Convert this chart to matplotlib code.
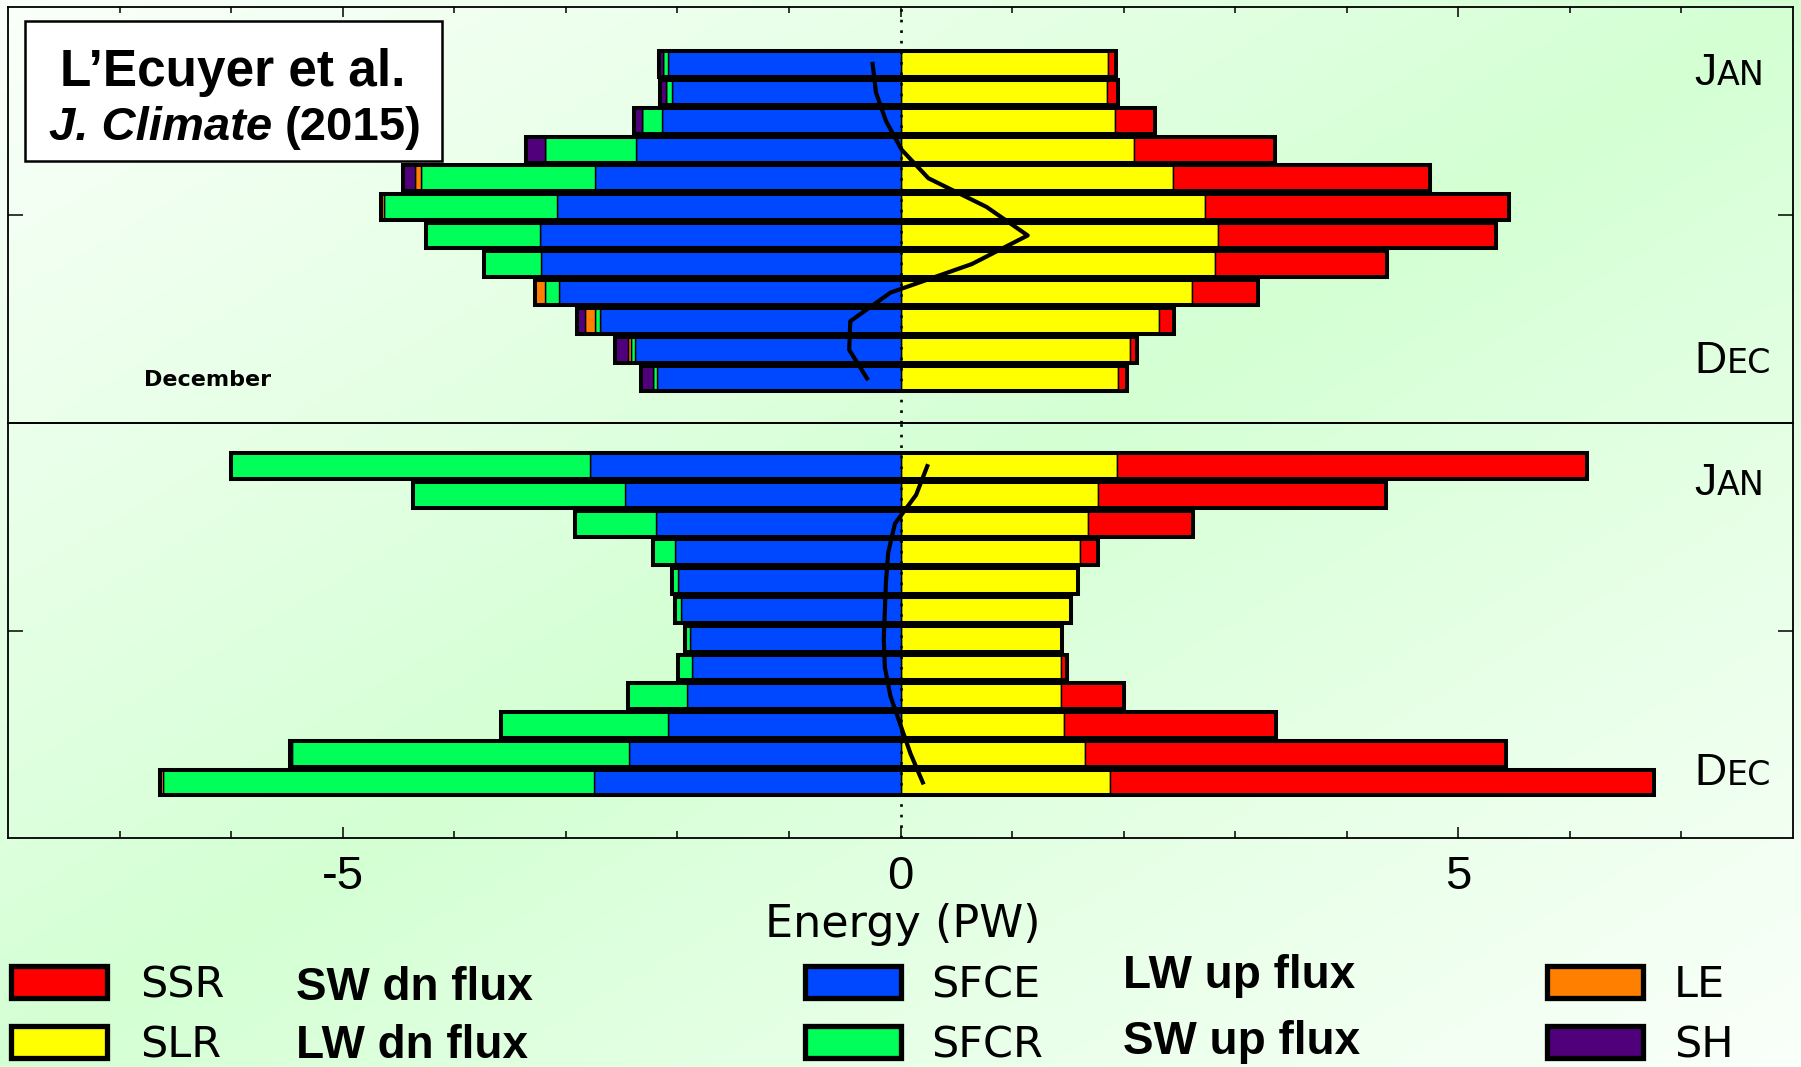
import numpy as np
import matplotlib
matplotlib.use("Agg")
import matplotlib.pyplot as plt
from matplotlib.patches import Rectangle

plt.rcParams['font.family'] = ['Liberation Sans', 'DejaVu Sans']

# Monthly surface energy terms (PW), January first
months = np.arange(1, 13)

upper_ssr = [0.07, 0.10, 0.36, 1.27, 2.31, 2.72, 2.49, 1.54, 0.59, 0.13, 0.06, 0.08]
upper_slr = [1.86, 1.85, 1.92, 2.09, 2.44, 2.73, 2.85, 2.82, 2.61, 2.32, 2.06, 1.95]
upper_sfce = [2.08, 2.05, 2.14, 2.37, 2.74, 3.08, 3.23, 3.22, 3.06, 2.69, 2.38, 2.18]
upper_sfcr = [0.045, 0.055, 0.18, 0.82, 1.56, 1.55, 1.02, 0.51, 0.13, 0.045, 0.035, 0.04]
upper_le = [0.0, 0.0, 0.0, 0.0, 0.05, 0.03, 0.0, 0.0, 0.09, 0.09, 0.025, 0.0]
upper_sh = [0.04, 0.05, 0.07, 0.17, 0.11, 0.0, 0.0, 0.0, 0.0, 0.075, 0.12, 0.105]
upper_curve = [-0.25, -0.22, -0.13, 0.01, 0.25, 0.77, 1.14, 0.64, -0.09, -0.45, -0.46, -0.30]

lower_ssr = [4.21, 2.58, 0.94, 0.16, 0.0, 0.0, 0.0, 0.05, 0.56, 1.90, 3.78, 4.87]
lower_slr = [1.94, 1.77, 1.68, 1.61, 1.59, 1.53, 1.45, 1.44, 1.44, 1.47, 1.65, 1.88]
lower_sfce = [2.78, 2.47, 2.19, 2.02, 1.99, 1.97, 1.89, 1.87, 1.91, 2.08, 2.43, 2.75]
lower_sfcr = [3.22, 1.90, 0.73, 0.20, 0.06, 0.05, 0.04, 0.12, 0.53, 1.50, 3.02, 3.86]
lower_le = [0.0, 0.0, 0.0, 0.0, 0.0, 0.0, 0.0, 0.0, 0.0, 0.0, 0.02, 0.03]
lower_sh = [0.0] * 12
lower_curve = [0.24, 0.14, -0.05, -0.11, -0.13, -0.14, -0.15, -0.14, -0.09, 0.00, 0.09, 0.20]

x_ticks = [-5, 0, 5]
x_ticklabels = ['-5', '0', '5']

c_ssr = '#ff0000'
c_slr = '#ffff00'
c_sfce = '#0048ff'
c_sfcr = '#00ff58'
c_le = '#ff7f00'
c_sh = '#50007a'

W, H = 1801, 1067


def fx(px):
    return px / W


def fy(py):
    return 1 - py / H


fig = plt.figure(figsize=(W / 100, H / 100), dpi=100)

# diagonal pale green wash behind everything
bg = fig.add_axes([0, 0, 1, 1], zorder=-10)
gx, gy = np.meshgrid(np.linspace(0, 1, 360), np.linspace(0, 1, 220))
d = np.abs(gx + gy - 1)
green = np.array([211, 255, 211]) / 255
white = np.array([250, 255, 250]) / 255
img = green[None, None, :] + (white - green)[None, None, :] * d[..., None] ** 0.9
bg.imshow(img, aspect='auto', extent=[0, 1, 0, 1], origin='upper')
bg.axis('off')


def draw_panel(ax, ssr, slr, sfce, sfcr, le, sh, curve, ylim):
    ssr, slr = np.array(ssr), np.array(slr)
    sfce, sfcr = np.array(sfce), np.array(sfcr)
    le, sh = np.array(le), np.array(sh)
    h = 0.9
    kw = dict(height=h, edgecolor='black', linewidth=1.0, zorder=2)
    ax.barh(months, slr, left=0, color=c_slr, **kw)
    ax.barh(months, ssr, left=slr, color=c_ssr, **kw)
    ax.barh(months, -sfce, left=0, color=c_sfce, **kw)
    ax.barh(months, -sfcr, left=-sfce, color=c_sfcr, **kw)
    ax.barh(months, -le, left=-(sfce + sfcr), color=c_le, **kw)
    ax.barh(months, -sh, left=-(sfce + sfcr + le), color=c_sh, **kw)
    left_tot = sfce + sfcr + le + sh
    right_tot = slr + ssr
    ax.barh(months, left_tot + right_tot, left=-left_tot, height=h,
            fill=False, edgecolor='black', linewidth=2.9, zorder=3)
    ax.plot(curve, months, color='black', linewidth=3.0, zorder=4)
    ax.axvline(0, color='black', linestyle=(0, (1, 3)), linewidth=1.9, zorder=5)

    ax.set_xlim(-8, 8)
    ax.set_ylim(*ylim)
    ax.set_yticks([(ylim[0] + ylim[1]) / 2])
    ax.tick_params(axis='y', direction='in', length=11, width=1.1,
                   left=True, right=True, labelleft=False)
    ax.set_xticks(x_ticks)
    ax.set_xticks(np.arange(-7, 8), minor=True)
    ax.set_facecolor('none')
    for s in ax.spines.values():
        s.set_linewidth(1.3)


ax1 = fig.add_axes([fx(8), fy(423), fx(1793) - fx(8), fy(7) - fy(423)], zorder=1)
ax2 = fig.add_axes([fx(8), fy(838), fx(1793) - fx(8), fy(423) - fy(838)], zorder=1)

draw_panel(ax1, upper_ssr, upper_slr, upper_sfce, upper_sfcr, upper_le, upper_sh,
           upper_curve, (13.56, -0.99))
draw_panel(ax2, lower_ssr, lower_slr, lower_sfce, lower_sfcr, lower_le, lower_sh,
           lower_curve, (13.93, -0.5))

ax1.tick_params(axis='x', which='both', direction='in', top=True, bottom=False,
                labelbottom=False, width=1.1)
ax1.tick_params(axis='x', which='major', length=7)
ax1.tick_params(axis='x', which='minor', length=4)

ax2.tick_params(axis='x', which='both', direction='in', top=False, bottom=True, width=1.1)
ax2.tick_params(axis='x', which='major', length=8, pad=12, labelsize=34)
ax2.tick_params(axis='x', which='minor', length=5)
ax2.set_xticklabels(x_ticklabels)

fig.text(fx(903), fy(937), 'Energy (PW)', ha='center', va='baseline',
         fontsize=32, family='DejaVu Sans')

# month markers on the right edge, small caps style
renderer = fig.canvas.get_renderer()
for first, rest, base in [('J', 'AN', 85), ('D', 'EC', 373), ('J', 'AN', 495), ('D', 'EC', 785)]:
    t = fig.text(fx(1694), fy(base), first, ha='left', va='baseline', fontsize=32, zorder=6)
    x_end = t.get_window_extent(renderer).x1 / fig.bbox.width
    fig.text(x_end + fx(1), fy(base), rest, ha='left', va='baseline', fontsize=24,
             family='DejaVu Sans', zorder=6)

fig.text(fx(208), fy(386), 'December', ha='center', va='baseline', fontsize=16,
         fontweight='bold', family='DejaVu Sans', zorder=6)

# citation box
fig.patches.append(Rectangle((fx(25), fy(161)), fx(442) - fx(25), fy(21) - fy(161),
                             transform=fig.transFigure, facecolor='white',
                             edgecolor='black', linewidth=1.8, zorder=5))
fig.text(fx(233), fy(86), 'L\u2019Ecuyer et al.', ha='center', va='baseline',
         fontsize=37, fontweight='bold', zorder=6)
fig.text(fx(272), fy(140), 'J. Climate', ha='right', va='baseline',
         fontsize=34, fontweight='bold', fontstyle='italic', zorder=6)
fig.text(fx(285), fy(140), '(2015)', ha='left', va='baseline',
         fontsize=34, fontweight='bold', zorder=6)

# colour key
key = [
    (9, 964, c_ssr, 140, 'SSR', 997, 296, 'SW dn flux', 1000),
    (9, 1024, c_slr, 140, 'SLR', 1057, 296, 'LW dn flux', 1058),
    (803, 964, c_sfce, 931, 'SFCE', 997, 1123, 'LW up flux', 988),
    (803, 1024, c_sfcr, 931, 'SFCR', 1057, 1123, 'SW up flux', 1054),
    (1545, 964, c_le, 1674, 'LE', 997, None, None, None),
    (1545, 1024, c_sh, 1674, 'SH', 1057, None, None, None),
]
for bx, by, col, lx, lab, lbase, dx, desc, dbase in key:
    fig.patches.append(Rectangle((fx(bx + 2), fy(by + 34)), fx(96), fy(0) - fy(32),
                                 transform=fig.transFigure, facecolor=col,
                                 edgecolor='black', linewidth=3.8, zorder=5))
    fig.text(fx(lx), fy(lbase), lab, ha='left', va='baseline', fontsize=31,
             family='DejaVu Sans', zorder=6)
    if desc:
        fig.text(fx(dx), fy(dbase), desc, ha='left', va='baseline', fontsize=33,
                 fontweight='bold', zorder=6)

fig.savefig('out.png', dpi=100)
